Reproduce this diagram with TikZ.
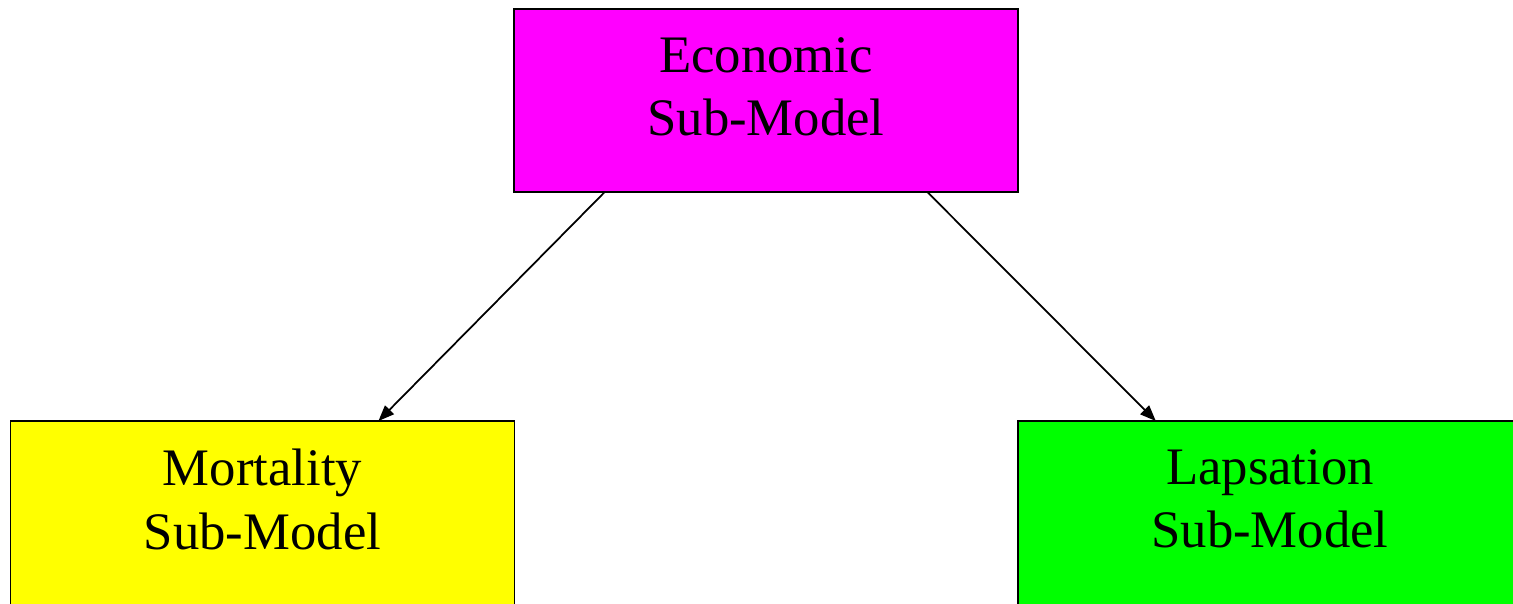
\documentclass[tikz,border=0pt]{standalone}
\usepackage{fontspec}
\setmainfont{Liberation Serif}
\usetikzlibrary{arrows.meta,calc}

\definecolor{submagenta}{RGB}{255,0,255}
\definecolor{subyellow}{RGB}{255,255,0}
\definecolor{subgreen}{RGB}{0,255,0}

\tikzset{
    subbox/.style={draw, line width=1pt, minimum width=10.08cm, minimum height=3.66cm, inner sep=0pt, outer sep=0pt},
    sublabel/.style={anchor=north, align=center, inner sep=0pt, font=\fontsize{30}{36}\selectfont},
    feeds/.style={line width=1pt, -{Triangle[length=9pt, width=7pt]}}
}

\begin{document}
\begin{tikzpicture}

        % Dimensioni della pagina
        \useasboundingbox (0, 0) rectangle (30.26, 12.06);
        \clip (0, 0) rectangle (30.26, 12.06);

        % ----------------------------------------------------
        % 1. Sotto-modello economico
        % ----------------------------------------------------
        \node[subbox, fill=submagenta] (econ) at (15.32, 10.05) {};
        \node[sublabel] (econtext) at ([yshift=-0.56cm]econ.north) {Economic\\Sub-Model};

        % ----------------------------------------------------
        % 2. Sotto-modelli di mortalita e riscatto (tagliati dal bordo)
        % ----------------------------------------------------
        \node[subbox, fill=subyellow, minimum height=4cm, anchor=north west] (mort) at (0.21, 3.64) {};
        \node[sublabel] (morttext) at ([yshift=-0.56cm]mort.north) {Mortality\\Sub-Model};

        \node[subbox, fill=subgreen, minimum height=4cm, minimum width=10.6cm, anchor=north west] (lapse) at (20.36, 3.64) {};
        \node[sublabel] (lapsetext) at ([yshift=-0.56cm, xshift=-0.26cm]lapse.north) {Lapsation\\Sub-Model};

        % Frecce
        \draw[feeds] ($(econ.south west)!0.18!(econ.south east)$) -- ($(mort.north west)!0.73!(mort.north east)$);
        \draw[feeds] ($(econ.south west)!0.82!(econ.south east)$) -- ($(lapse.north west)!0.26!(lapse.north east)$);

\end{tikzpicture}
\end{document}
